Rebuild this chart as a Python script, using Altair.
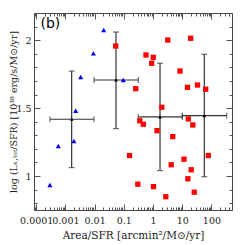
import altair as alt
import pandas as pd

# ---- data ----
blue_x = [2.95e-4, 5.7e-4, 1.96e-3, 2.25e-3, 3.33e-3, 9.1e-3, 0.0205, 0.096]
blue_y = [0.934, 1.221, 1.258, 1.481, 1.729, 1.903, 2.075, 1.707]

red_x = [0.0528, 3.19, 19.5, 0.576, 1.02, 0.902, 8.41, 0.256, 15.2, 33.4,
         63.8, 2.0, 0.353, 0.466, 16.2, 23.1, 1.37, 4.73, 0.157, 78.3,
         11.5, 4.2, 20.3, 15.6, 0.302, 1.04, 25.8, 2.74]
red_y = [1.957, 2.001, 2.014, 1.891, 1.874, 1.830, 1.773, 1.643, 1.653, 1.670,
         1.639, 1.506, 1.407, 1.381, 1.420, 1.376, 1.334, 1.290, 1.151, 1.151,
         1.124, 1.083, 1.046, 0.980, 0.940, 0.922, 0.881, 0.848]

bin_x = [1.64e-3, 0.054, 1.74, 57.1]
bin_xlo = [2.97e-4, 9.5e-3, 0.314, 10.1]
bin_xhi = [9.5e-3, 0.314, 10.1, 334.0]
bin_y = [1.418, 1.707, 1.435, 1.444]
bin_ylo = [1.062, 1.349, 1.040, 0.995]
bin_yhi = [1.773, 2.060, 1.830, 1.896]

x_major = [1e-4, 1e-3, 0.01, 0.1, 1, 10, 100]
y_major = [1.0, 1.5, 2.0]
y_minor = [0.8, 0.9, 1.1, 1.2, 1.3, 1.4, 1.6, 1.7, 1.8, 1.9, 2.1]
panel_label = ["(b)"]

x_title = "Area/SFR [arcmin\u00b2/M\u2299/yr]"
y_title = "log (L\u2093,\u209c\u2092\u209c/SFR) [10\u00b3\u2078 erg/s/M\u2299/yr]"

XDOM = [10 ** -4.075, 10 ** 2.705]
YDOM = [0.75, 2.2]
x_minor = [k * 10.0 ** d for d in range(-5, 3) for k in range(2, 10)
           if XDOM[0] <= k * 10.0 ** d <= XDOM[1]]

blue = pd.DataFrame({"x": blue_x, "y": blue_y})
red = pd.DataFrame({"x": red_x, "y": red_y})
bins = pd.DataFrame({"xc": bin_x, "xlo": bin_xlo, "xhi": bin_xhi,
                     "yc": bin_y, "ylo": bin_ylo, "yhi": bin_yhi})

xs = alt.Scale(type="log", domain=XDOM, nice=False)
ys = alt.Scale(domain=YDOM, nice=False, zero=False)

SERIF = "DejaVu Serif"
TXT = "#222222"
TICK = "#555555"


def axis_layer(xaxis, yaxis):
    return alt.Chart(bins).mark_point(opacity=0).encode(
        x=alt.X("xc:Q", scale=xs, axis=xaxis),
        y=alt.Y("yc:Q", scale=ys, axis=yaxis),
    )


def tick_axis(orient, values, size):
    return alt.Axis(orient=orient, values=values, labels=False, ticks=True,
                    tickSize=size, offset=-size, tickColor=TICK, tickWidth=1,
                    domain=False, grid=False, title="")


xlab = alt.Axis(orient="bottom", values=x_major, format="~g", ticks=False,
                tickSize=0, labelPadding=5, labelFont=SERIF, labelFontSize=9.5,
                labelColor=TXT, labelOverlap=False, labelFlush=False,
                domain=False, grid=False, title=x_title, titleFont=SERIF,
                titleFontSize=10.5, titleFontWeight="normal", titleColor=TXT,
                titleBaseline="alphabetic", titleY=28)
ylab = alt.Axis(orient="left", values=y_major, format="~g", ticks=False,
                tickSize=0, labelPadding=3, labelFont=SERIF, labelFontSize=9.5,
                labelColor=TXT, labelOverlap=False, labelFlush=False,
                domain=False, grid=False, title=y_title, titleFont=SERIF,
                titleFontSize=9.5, titleFontWeight="normal", titleColor=TXT,
                titleAngle=270, titleBaseline="middle", titleX=-21, titleY=98.5)

layers = [
    axis_layer(xlab, ylab),
    axis_layer(tick_axis("bottom", x_major, 6), tick_axis("left", y_major, 6)),
    axis_layer(tick_axis("bottom", x_minor, 3), tick_axis("left", y_minor, 3)),
    axis_layer(tick_axis("top", x_major, 6), tick_axis("right", y_major, 6)),
    axis_layer(tick_axis("top", x_minor, 3), tick_axis("right", y_minor, 3)),
]

EB = "#333333"
base = alt.Chart(bins)
layers += [
    base.mark_rule(color=EB, strokeWidth=1.2).encode(
        x=alt.X("xc:Q", scale=xs, axis=None),
        y=alt.Y("ylo:Q", scale=ys, axis=None), y2="yhi:Q"),
    base.mark_rule(color=EB, strokeWidth=1.2).encode(
        x=alt.X("xlo:Q", scale=xs, axis=None), x2="xhi:Q",
        y=alt.Y("yc:Q", scale=ys, axis=None)),
    base.mark_tick(orient="horizontal", size=6, thickness=1.2, color=EB).encode(
        x=alt.X("xc:Q", scale=xs, axis=None), y=alt.Y("yhi:Q", scale=ys, axis=None)),
    base.mark_tick(orient="horizontal", size=6, thickness=1.2, color=EB).encode(
        x=alt.X("xc:Q", scale=xs, axis=None), y=alt.Y("ylo:Q", scale=ys, axis=None)),
    base.mark_tick(orient="vertical", size=6, thickness=1.2, color=EB).encode(
        x=alt.X("xlo:Q", scale=xs, axis=None), y=alt.Y("yc:Q", scale=ys, axis=None)),
    base.mark_tick(orient="vertical", size=6, thickness=1.2, color=EB).encode(
        x=alt.X("xhi:Q", scale=xs, axis=None), y=alt.Y("yc:Q", scale=ys, axis=None)),
    base.mark_point(shape="triangle-up", filled=True, size=14, color="black",
                    opacity=1).encode(
        x=alt.X("xc:Q", scale=xs, axis=None), y=alt.Y("yc:Q", scale=ys, axis=None)),
    alt.Chart(red).mark_point(shape="square", filled=True, size=28, color="#ff0000",
                              opacity=1).encode(
        x=alt.X("x:Q", scale=xs, axis=None), y=alt.Y("y:Q", scale=ys, axis=None)),
    alt.Chart(blue).mark_point(shape="triangle-up", filled=True, size=26,
                               color="#0000ff", opacity=1).encode(
        x=alt.X("x:Q", scale=xs, axis=None), y=alt.Y("y:Q", scale=ys, axis=None)),
    alt.Chart(pd.DataFrame({"t": panel_label})).mark_text(
        align="left", baseline="middle", font="DejaVu Sans", fontSize=14,
        color="black").encode(text="t:N", x=alt.value(6.5), y=alt.value(11)),
]

chart = alt.layer(*layers).resolve_axis(x="independent", y="independent").properties(
    width=198, height=197,
    autosize=alt.AutoSizeParams(type="none"),
    padding={"left": 26, "top": 5, "right": 5, "bottom": 32},
).configure_view(stroke="#444444", strokeWidth=1)

chart.save("out.html", embed_options={"renderer": "svg", "actions": False})
